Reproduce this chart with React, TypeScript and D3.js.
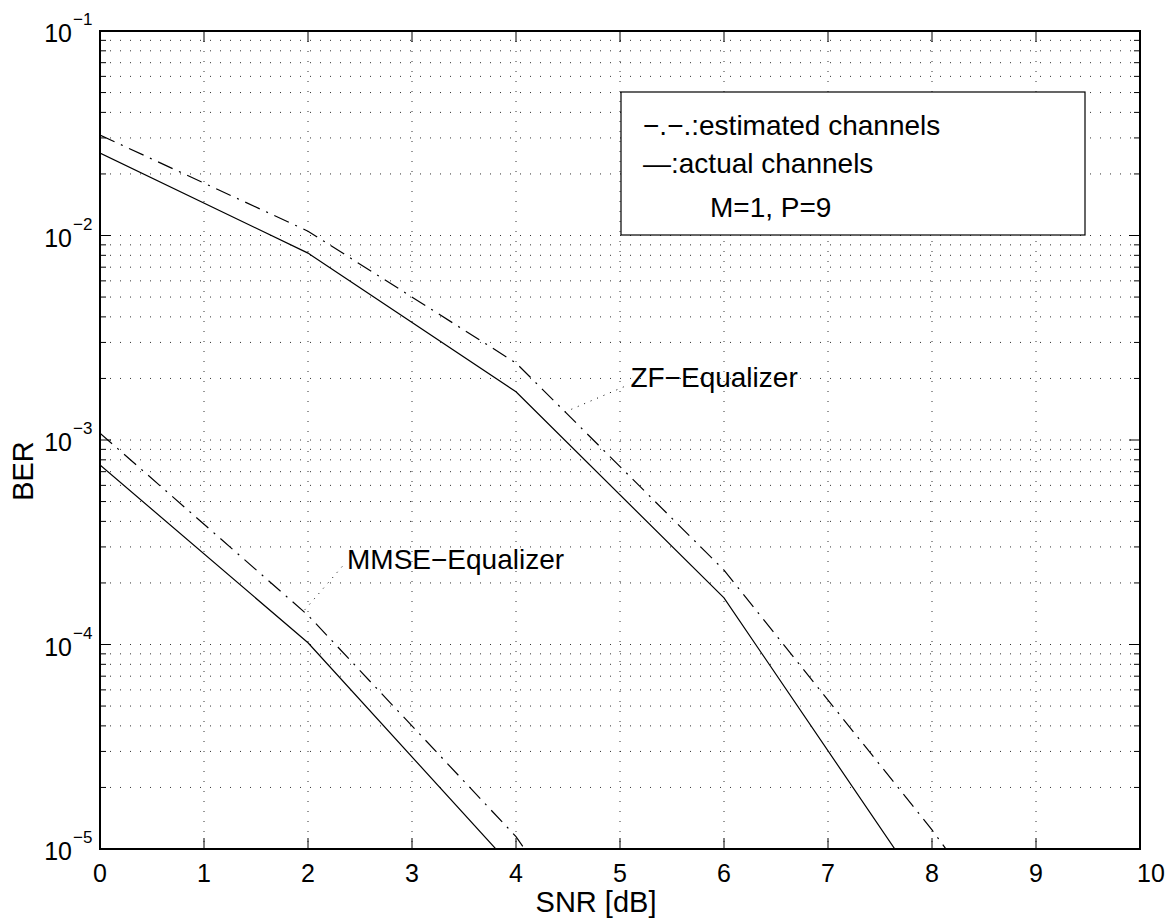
import React from "react";
import * as d3 from "d3";

// SNR points (dB)
const snr = [0, 2, 4, 6, 8, 10];
const snrMmse = [0, 2, 4, 6];

// BER (last points fall below the axis and get clipped)
const zfActual = [0.0253, 0.0082, 0.00172, 1.69e-4, 5.4e-6, 1e-7];
const zfEstimated = [0.031, 0.0105, 0.00238, 2.31e-4, 1.24e-5, 5e-7];
const mmseActual = [7.55e-4, 1.02e-4, 7.8e-6, 3e-7];
const mmseEstimated = [1.08e-3, 1.39e-4, 1.15e-5, 4e-7];

const xTicks = [0, 1, 2, 3, 4, 5, 6, 7, 8, 9, 10];
const yExponents = [-1, -2, -3, -4, -5];

// annotation pointers [x0, y0, x1, y1] in data units
const zfPointer = [4.47, 1.37e-3, 5.08, 1.86e-3];
const mmsePointer = [1.97, 1.48e-4, 2.36, 2.51e-4];

const legendLines = ["\u2212.\u2212.:estimated channels", "\u2014:actual channels", "M=1, P=9"];

const W = 1167;
const H = 920;
const margin = { top: 31, right: 27, bottom: 71, left: 100 };
const FONT = "'Liberation Sans', Arial, Helvetica, sans-serif";

export default function App() {
  const width = W - margin.left - margin.right;
  const height = H - margin.top - margin.bottom;

  const x = d3.scaleLinear().domain([0, 10]).range([0, width]);
  const y = d3.scaleLog().domain([1e-5, 1e-1]).range([height, 0]);

  const line = d3
    .line<[number, number]>()
    .x((d) => x(d[0]))
    .y((d) => y(d[1]));

  const zip = (xs: number[], ys: number[]) => xs.map((v, i) => [v, ys[i]] as [number, number]);

  // minor log values
  const minors: number[] = [];
  for (let e = -5; e < -1; e++) {
    for (let m = 2; m <= 9; m++) minors.push(m * Math.pow(10, e));
  }
  const majors = yExponents.map((e) => Math.pow(10, e));

  const gridStyle = { stroke: "#333", strokeWidth: 1, strokeDasharray: "1,9" };

  return (
    <svg width={W} height={H} style={{ position: "absolute", left: 0, top: 0, background: "#fff" }} fontFamily={FONT}>
      <defs>
        <clipPath id="plotclip">
          <rect x={0} y={0} width={width} height={height} />
        </clipPath>
      </defs>
      <g transform={`translate(${margin.left},${margin.top})`}>
        {/* grid */}
        {xTicks.slice(1, -1).map((t) => (
          <line key={"gx" + t} x1={x(t)} x2={x(t)} y1={0} y2={height} {...gridStyle} />
        ))}
        {minors.concat(majors.slice(1, -1)).map((v, i) => (
          <line key={"gy" + i} x1={0} x2={width} y1={y(v)} y2={y(v)} {...gridStyle} />
        ))}

        {/* curves */}
        <g clipPath="url(#plotclip)" fill="none" stroke="#000" strokeWidth={1.2}>
          <path d={line(zip(snr, zfActual)) || ""} />
          <path d={line(zip(snr, zfEstimated)) || ""} strokeDasharray="16,7,2,7" />
          <path d={line(zip(snrMmse, mmseActual)) || ""} />
          <path d={line(zip(snrMmse, mmseEstimated)) || ""} strokeDasharray="16,7,2,7" />
        </g>

        {/* annotation pointers */}
        <line x1={x(zfPointer[0])} y1={y(zfPointer[1])} x2={x(zfPointer[2])} y2={y(zfPointer[3])} stroke="#000" strokeDasharray="1,6" />
        <line x1={x(mmsePointer[0])} y1={y(mmsePointer[1])} x2={x(mmsePointer[2])} y2={y(mmsePointer[3])} stroke="#000" strokeDasharray="1,6" />
        <text x={x(5.1)} y={y(1.82e-3)} fontSize={28} fill="#000">ZF{"\u2212"}Equalizer</text>
        <text x={x(2.375)} y={y(2.34e-4)} fontSize={28} fill="#000">MMSE{"\u2212"}Equalizer</text>

        {/* legend */}
        <rect x={521} y={61} width={464} height={143} fill="#fff" stroke="#000" strokeWidth={1.2} />
        <text x={543} y={104} fontSize={28}>{legendLines[0]}</text>
        <text x={543} y={142} fontSize={28}>{legendLines[1]}</text>
        <text x={610} y={186} fontSize={28}>{legendLines[2]}</text>

        {/* ticks */}
        {xTicks.map((t, i) => (
          <g key={"xt" + t}>
            <line x1={x(t)} x2={x(t)} y1={height} y2={height - 11} stroke="#000" />
            <line x1={x(t)} x2={x(t)} y1={0} y2={11} stroke="#000" />
            <text
              x={i === xTicks.length - 1 ? x(t) + 11 : x(t)}
              y={height + 33}
              fontSize={25}
              textAnchor="middle"
            >
              {t}
            </text>
          </g>
        ))}
        {majors.map((v, i) => (
          <g key={"ym" + i}>
            <line x1={0} x2={11} y1={y(v)} y2={y(v)} stroke="#000" />
            <line x1={width} x2={width - 11} y1={y(v)} y2={y(v)} stroke="#000" />
            <text x={-28} y={y(v) + 11} fontSize={25} textAnchor="end">10</text>
            <text x={-27} y={y(v) - 6} fontSize={17}>{"\u2212" + (-yExponents[i])}</text>
          </g>
        ))}
        {minors.map((v, i) => (
          <g key={"yn" + i}>
            <line x1={0} x2={6} y1={y(v)} y2={y(v)} stroke="#000" />
            <line x1={width} x2={width - 6} y1={y(v)} y2={y(v)} stroke="#000" />
          </g>
        ))}

        {/* axes box */}
        <rect x={0} y={0} width={width} height={height} fill="none" stroke="#000" strokeWidth={2} />

        {/* labels */}
        <text x={496} y={height + 63} fontSize={29} textAnchor="middle">SNR [dB]</text>
        <text transform={`translate(${-67},${height / 2 + 31}) rotate(-90)`} fontSize={29} textAnchor="middle">BER</text>
      </g>
    </svg>
  );
}
